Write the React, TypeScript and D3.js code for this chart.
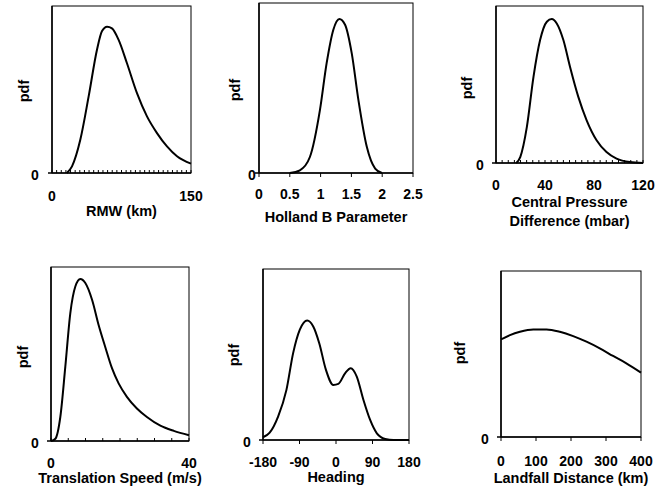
import React from "react";
import * as d3 from "d3";

// ---- Data ----
const rmwKm = [16, 21.6, 30.6, 39.6, 48.6, 54, 59.4, 64.7, 71.9, 80.9, 91.7, 102.5, 113.3, 124.1, 134.9, 150];
const rmwPdf = [0, 0.04, 0.2, 0.46, 0.74, 0.85, 0.876, 0.866, 0.797, 0.657, 0.478, 0.339, 0.239, 0.159, 0.1, 0.056];

const hollandB = [0.5, 0.663, 0.826, 0.989, 1.098, 1.207, 1.304, 1.397, 1.505, 1.614, 1.75, 1.886, 1.995];
const hollandPdf = [0, 0.016, 0.094, 0.37, 0.646, 0.843, 0.906, 0.872, 0.705, 0.429, 0.154, 0.026, 0];

const dpMbar = [16.5, 19.8, 25.2, 30.6, 36, 41.5, 45.5, 49.6, 55, 60.4, 67.2, 74, 82.1, 90.2, 98.4, 109.2, 120];
const dpPdf = [0, 0.038, 0.23, 0.549, 0.783, 0.9, 0.917, 0.889, 0.783, 0.613, 0.421, 0.272, 0.145, 0.07, 0.028, 0.006, 0];

const speedMs = [0, 1.26, 2.7, 4.15, 5.6, 7.05, 8.5, 9.95, 11.9, 13.8, 15.7, 17.7, 19.6, 22, 24.9, 27.8, 31.7, 35.6, 40];
const speedPdf = [0, 0.013, 0.138, 0.427, 0.735, 0.888, 0.931, 0.908, 0.812, 0.667, 0.542, 0.417, 0.331, 0.254, 0.187, 0.138, 0.088, 0.058, 0.033];

const headingDeg = [-180, -163.5, -142.8, -122.2, -105.7, -89.2, -71, -56.1, -41.3, -24.8, -6.6, 5.8, 22.3, 36.3, 51.2, 67.7, 84.2, 100.7, 121.4, 142, 180];
const headingPdf = [0.016, 0.043, 0.137, 0.293, 0.508, 0.645, 0.699, 0.664, 0.566, 0.41, 0.322, 0.328, 0.39, 0.42, 0.371, 0.234, 0.117, 0.039, 0.006, 0, 0];

const landfallKm = [0, 25.7, 54.2, 92.2, 130.2, 168.2, 206.2, 244.2, 282.2, 320.2, 358.2, 400];
const landfallPdf = [0.588, 0.614, 0.634, 0.648, 0.648, 0.634, 0.608, 0.574, 0.534, 0.488, 0.444, 0.388];

const rmwTickLabels = [0, 150];
const hollandTickLabels = [0, 0.5, 1, 1.5, 2, 2.5];
const dpTickLabels = [0, 40, 80, 120];
const speedTickLabels = [0, 40];
const headingTickLabels = [-180, -90, 0, 90, 180];
const landfallTickLabels = [0, 100, 200, 300, 400];

type Panel = {
  xs: number[];
  ys: number[];
  domain: [number, number];
  labels: number[];
  minorStep?: number;
  outerTicks: boolean;
  title: string[];
  box: { l: number; r: number; t: number; b: number };
  labelDy: number;
  titleDy: number[];
  zeroDx: number;
  pdfX: number;
  pdfY: number;
};

const panels: Panel[] = [
  { xs: rmwKm, ys: rmwPdf, domain: [0, 150], labels: rmwTickLabels, minorStep: 5, outerTicks: false,
    title: ["RMW (km)"], box: { l: 52, r: 191, t: 6, b: 173 }, labelDy: 23, titleDy: [38], zeroDx: -17, pdfX: 24, pdfY: 91 },
  { xs: hollandB, ys: hollandPdf, domain: [0, 2.5], labels: hollandTickLabels, outerTicks: true,
    title: ["Holland B Parameter"], box: { l: 259, r: 413, t: 3, b: 173 }, labelDy: 21, titleDy: [44], zeroDx: -7, pdfX: 235, pdfY: 90 },
  { xs: dpMbar, ys: dpPdf, domain: [0, 120], labels: dpTickLabels, minorStep: 5, outerTicks: false,
    title: ["Central Pressure", "Difference (mbar)"], box: { l: 496, r: 643, t: 6, b: 163 }, labelDy: 22, titleDy: [39, 58], zeroDx: -16, pdfX: 467, pdfY: 88 },
  { xs: speedMs, ys: speedPdf, domain: [0, 40], labels: speedTickLabels, minorStep: 5, outerTicks: false,
    title: ["Translation Speed (m/s)"], box: { l: 51, r: 189, t: 267, b: 441 }, labelDy: 22, titleDy: [37], zeroDx: -16, pdfX: 23, pdfY: 357 },
  { xs: headingDeg, ys: headingPdf, domain: [-180, 180], labels: headingTickLabels, outerTicks: true,
    title: ["Heading"], box: { l: 263, r: 409, t: 269, b: 440 }, labelDy: 22, titleDy: [37], zeroDx: -16, pdfX: 234, pdfY: 355 },
  { xs: landfallKm, ys: landfallPdf, domain: [0, 400], labels: landfallTickLabels, outerTicks: true,
    title: ["Landfall Distance (km)"], box: { l: 501, r: 641, t: 271, b: 437 }, labelDy: 24, titleDy: [41], zeroDx: -16, pdfX: 460, pdfY: 353 },
];

const FONT = "'Liberation Sans', Arial, Helvetica, sans-serif";

function PanelView({ p }: { p: Panel }) {
  const { l, r, t, b } = p.box;
  const x = d3.scaleLinear().domain(p.domain).range([l, r]);
  const y = d3.scaleLinear().domain([0, 1]).range([b, t]);
  const line = d3
    .line<number>()
    .x((_, i) => x(p.xs[i]))
    .y((d) => y(d))
    .curve(d3.curveMonotoneX);
  const minor = p.minorStep ? d3.range(p.domain[0], p.domain[1] + 1e-9, p.minorStep) : [];
  const cx = (l + r) / 2;
  return (
    <g>
      <rect x={l} y={t} width={r - l} height={b - t} fill="none" stroke="#000" strokeWidth={1} />
      <line x1={l} x2={l} y1={t} y2={b} stroke="#000" strokeWidth={1.5} />
      <line x1={l - 4} x2={r} y1={b} y2={b} stroke="#000" strokeWidth={1.5} />
      {minor.map((v) => (
        <line key={"m" + v} x1={x(v)} x2={x(v)} y1={b} y2={b - 3} stroke="#000" strokeWidth={1} />
      ))}
      {p.outerTicks &&
        p.labels.map((v) => (
          <line key={"o" + v} x1={x(v)} x2={x(v)} y1={b} y2={b + 4} stroke="#000" strokeWidth={1} />
        ))}
      <path d={line(p.ys) || ""} fill="none" stroke="#000" strokeWidth={2} strokeLinejoin="round" />
      {p.labels.map((v) => (
        <text key={"l" + v} x={x(v)} y={b + p.labelDy} textAnchor="middle" dominantBaseline="central"
          fontSize={14} fontWeight="bold" fontFamily={FONT}>
          {String(v)}
        </text>
      ))}
      {p.title.map((s, i) => (
        <text key={"t" + i} x={cx} y={b + p.titleDy[i]} textAnchor="middle" dominantBaseline="central"
          fontSize={14.5} fontWeight="bold" fontFamily={FONT}>
          {s}
        </text>
      ))}
      <text x={l + p.zeroDx} y={b + 1.5} textAnchor="middle" dominantBaseline="central" fontSize={14}
        fontWeight="bold" fontFamily={FONT}>
        0
      </text>
      <text x={p.pdfX} y={p.pdfY} textAnchor="middle" dominantBaseline="central" fontSize={14.5}
        fontWeight="bold" fontFamily={FONT} transform={`rotate(-90 ${p.pdfX} ${p.pdfY})`}>
        pdf
      </text>
    </g>
  );
}

export default function App() {
  return (
    <svg width={656} height={491} style={{ position: "absolute", left: 0, top: 0, background: "#fff" }}>
      <rect width={656} height={491} fill="#fff" />
      {panels.map((p, i) => (
        <PanelView key={i} p={p} />
      ))}
    </svg>
  );
}
